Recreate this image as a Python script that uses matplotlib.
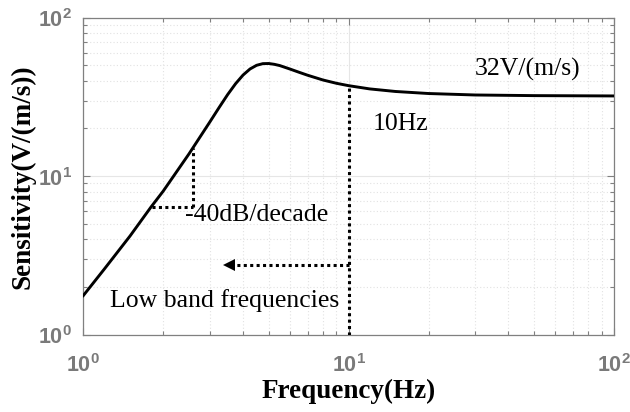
import matplotlib
matplotlib.use("Agg")
import matplotlib.pyplot as plt
import numpy as np

# Sensitivity curve
freq = [1.0, 1.2, 1.5, 1.8, 2.0, 2.5, 3.0, 3.25, 3.5, 3.75, 4.0, 4.25, 4.5,
        4.75, 5.0, 5.25, 5.5, 6.0, 6.5, 7.0, 8.0, 9.0, 10.0, 12.0, 15.0,
        20.0, 30.0, 50.0, 100.0]
sens = [1.77, 2.60, 4.20, 6.40, 8.05, 13.8, 22.0, 27.1, 32.7, 38.3, 43.4,
        47.4, 50.0, 51.2, 51.3, 50.7, 49.8, 47.4, 45.2, 43.3, 40.4, 38.5,
        37.2, 35.5, 34.2, 33.2, 32.5, 32.2, 32.05]

xticks = [1, 10, 100]
xtick_labels = [r"$\mathbf{10^{0}}$", r"$\mathbf{10^{1}}$", r"$\mathbf{10^{2}}$"]
yticks = [1, 10, 100]
ytick_labels = [r"$\mathbf{10^{0}}$", r"$\mathbf{10^{1}}$", r"$\mathbf{10^{2}}$"]

# slope marker (-40dB/decade) and 10 Hz cut line
slope_f = [1.815, 2.58]
slope_s = [6.44, 15.1]
cut_f = 10.0
cut_s = 37.2
arrow_from = 10.0
arrow_to = 3.55
arrow_s = 2.77

plt.rcParams["mathtext.fontset"] = "custom"
plt.rcParams["mathtext.bf"] = "Liberation Sans:bold"
plt.rcParams["mathtext.rm"] = "Liberation Sans"

fig = plt.figure(figsize=(6.3, 4.12), dpi=100)
ax = fig.add_axes([0.1322, 0.187, 0.8424, 0.7705])
ax.set_xscale("log")
ax.set_yscale("log")
ax.set_xlim(1, 100)
ax.set_ylim(1, 100)

ax.grid(True, which="major", color="#e6e6e6", lw=0.8, ls="-")
ax.grid(True, which="minor", color="#e2e2e2", lw=0.8, ls=(0, (1, 2)))
ax.set_axisbelow(True)

dot = (0, (1, 1.1))
ax.plot(freq, sens, color="black", lw=2.1, zorder=4)
ax.plot([cut_f, cut_f], [1, cut_s], color="black", lw=2.2, ls=dot, zorder=3)
ax.plot([slope_f[1], slope_f[1]], slope_s, color="black", lw=2.2, ls=dot, zorder=3)
ax.plot(slope_f, [slope_s[0], slope_s[0]], color="black", lw=2.2, ls=dot, zorder=3)
ax.plot([arrow_from, arrow_to * 1.05], [arrow_s, arrow_s], color="black", lw=2.2, ls=dot, zorder=3)
ax.plot([arrow_to], [arrow_s], marker="<", color="black", ms=8, mew=0, zorder=3)

serif = "Liberation Serif"
ax.text(29.9, 47.2, "32V/(m/s)", family=serif, fontsize=18.5, va="center")
ax.text(12.3, 21.2, "10Hz", family=serif, fontsize=18.5, va="center")
ax.text(2.42, 5.73, "-40dB/decade", family=serif, fontsize=18.5, va="center")
ax.text(1.26, 1.66, "Low band frequencies", family=serif, fontsize=18.5, va="center")

ax.set_xticks(xticks)
ax.set_xticklabels(xtick_labels)
ax.set_yticks(yticks)
ax.set_yticklabels(ytick_labels)
ax.tick_params(which="both", direction="in", top=True, right=True,
               colors="#808080", labelcolor="#7a7a7a", labelsize=15.5)
ax.tick_params(axis="x", which="major", length=5, width=0.8, pad=13)
ax.tick_params(axis="y", which="major", length=5, width=0.8, pad=8)
ax.tick_params(which="minor", length=3, width=0.8)
for s in ax.spines.values():
    s.set_color("#808080")
    s.set_linewidth(0.9)

ax.set_xlabel("Frequency(Hz)", family=serif, fontweight="bold", fontsize=19.5, labelpad=2)
ax.set_ylabel("Sensitivity(V/(m/s))", family=serif, fontweight="bold", fontsize=19.5, labelpad=2)

fig.savefig("out.png", dpi=100)
